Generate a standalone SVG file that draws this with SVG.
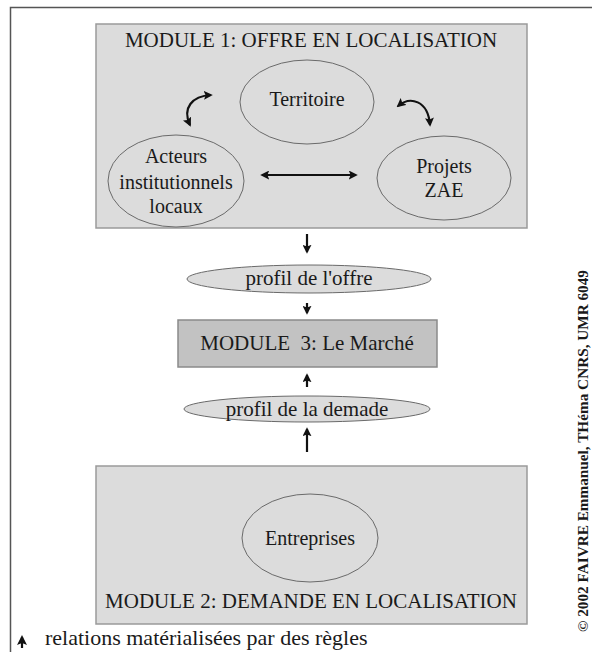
<svg xmlns="http://www.w3.org/2000/svg" width="592" height="652" viewBox="0 0 592 652">
<style>
.box{fill:#dcdcdc;stroke:#9a9a9a;stroke-width:1.5}
.box3{fill:#c2c2c2;stroke:#8a8a8a;stroke-width:1.5}
.ell{fill:#dcdcdc;stroke:#6a6a6a;stroke-width:1}
.t{font-family:"Liberation Serif","Times New Roman",serif;font-size:20px;fill:#1a1a1a;text-anchor:middle}
.h{font-family:"Liberation Serif","Times New Roman",serif;font-size:21px;fill:#1a1a1a;text-anchor:middle;white-space:pre}
.l{font-family:"Liberation Serif","Times New Roman",serif;font-size:22px;fill:#1a1a1a}
.cr{font-family:"Liberation Serif","Times New Roman",serif;font-size:15px;font-weight:bold;fill:#1a1a1a}
.c{fill:none;stroke:#111;stroke-width:2.2}
.frame{fill:none;stroke:#555;stroke-width:1.5}
</style>
<defs>
<marker id="ah" viewBox="0 0 10 10" refX="8" refY="5" markerWidth="9" markerHeight="9" markerUnits="userSpaceOnUse" orient="auto-start-reverse">
<path d="M0,0 L10,5 L0,10 L2,5 Z" fill="#111"/>
</marker>
<marker id="ahl" viewBox="0 0 10 10" refX="8" refY="5" markerWidth="10" markerHeight="10" markerUnits="userSpaceOnUse" orient="auto">
<path d="M0,0 L10,5 L0,10 L2,5 Z" fill="#111"/>
</marker>
</defs>
<path class="frame" d="M10.5,652 V7.5 H592"/>
<g id="module1">
<rect class="box" x="96" y="24" width="431" height="204"/>
<text class="h" x="311" y="47">MODULE 1: OFFRE EN LOCALISATION</text>
</g>
<g id="territoire">
<ellipse class="ell" cx="307" cy="102" rx="67" ry="42"/>
<text class="t" x="307" y="106">Territoire</text>
</g>
<g id="acteurs">
<ellipse class="ell" cx="176" cy="181" rx="68" ry="46"/>
<text class="t" x="176" y="163">Acteurs</text>
<text class="t" x="176" y="189">institutionnels</text>
<text class="t" x="176" y="213">locaux</text>
</g>
<g id="projets">
<ellipse class="ell" cx="444" cy="178" rx="67" ry="42"/>
<text class="t" x="444" y="173">Projets</text>
<text class="t" x="444" y="197">ZAE</text>
</g>
<g id="profil-offre">
<ellipse class="ell" cx="309" cy="279" rx="122" ry="14"/>
<text class="h" x="309" y="285">profil de l'offre</text>
</g>
<g id="module3">
<rect class="box3" x="178" y="320" width="259" height="47"/>
<text class="h" x="307" y="350">MODULE  3: Le Marché</text>
</g>
<g id="profil-demande">
<ellipse class="ell" cx="307" cy="409" rx="123" ry="13"/>
<text class="h" x="307" y="416">profil de la demade</text>
</g>
<g id="module2">
<rect class="box" x="96" y="466" width="431" height="158"/>
<text class="h" x="311" y="608">MODULE 2: DEMANDE EN LOCALISATION</text>
</g>
<g id="entreprises">
<ellipse class="ell" cx="310" cy="538" rx="68" ry="44"/>
<text class="t" x="310" y="545">Entreprises</text>
</g>
<g id="connectors">
<path class="c" d="M190,125 C182,108 192,96 211,95" marker-start="url(#ah)" marker-end="url(#ah)"/>
<path class="c" d="M398,106 C410,96 428,100 430,125" marker-start="url(#ah)" marker-end="url(#ah)"/>
<path class="c" d="M262,175 H356" marker-start="url(#ah)" marker-end="url(#ah)"/>
<path class="c" d="M307,234 V252" marker-end="url(#ah)"/>
<path class="c" d="M307,303 V313" marker-end="url(#ah)"/>
<path class="c" d="M307,387 V375" marker-end="url(#ah)"/>
<path class="c" d="M307,452 V429" marker-end="url(#ah)"/>
</g>
<g id="legend">
<path class="c" d="M22,648 V637" marker-end="url(#ahl)"/>
<text class="l" x="45" y="645">relations matérialisées par des règles</text>
</g>
<text class="cr" transform="translate(588,632) rotate(-90)" textLength="362" lengthAdjust="spacingAndGlyphs">© 2002 FAIVRE Emmanuel, THéma CNRS, UMR 6049</text>
</svg>
